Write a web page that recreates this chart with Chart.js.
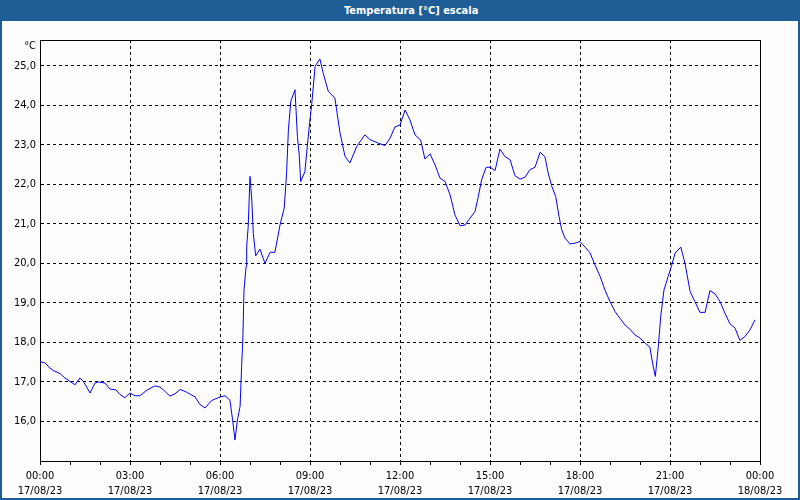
<!DOCTYPE html>
<html>
<head>
<meta charset="utf-8">
<script src="https://cdn.jsdelivr.net/npm/chart.js@4/dist/chart.umd.min.js"></script>
<style>
  html, body { margin: 0; padding: 0; background: #fcfdfc; }
  #wrap { position: relative; width: 800px; height: 500px; overflow: hidden; background: #fcfdfc; }
  #c { position: absolute; left: 0; top: 0; }
  #title { position: absolute; left: 0; top: 0; width: 800px; height: 21px; background: #1e5d96;
           color: #ffffff; font: bold 11px "DejaVu Sans Condensed", "DejaVu Sans", sans-serif; line-height: 21px; }
  #title span { position: absolute; left: 344px; top: 0; white-space: nowrap; }
  #frame { position: absolute; left: 0; top: 0; width: 796px; height: 498px; border-left: 2px solid #1e5d96;
           border-right: 2px solid #1e5d96; border-bottom: 2px solid #1e5d96; pointer-events: none; }
  #unit { position: absolute; right: 764px; top: 39px; font: 11px "DejaVu Sans Condensed", "DejaVu Sans", sans-serif; color: #000; white-space: nowrap; }
</style>
</head>
<body>
<div id="wrap">
  <canvas id="c" width="800" height="500"></canvas>
  <div id="title"><span>Temperatura [°C] escala</span></div>
  <div id="unit">°C</div>
  <div id="frame"></div>
</div>
<script>
// ---- data (hours since 17/08/23 00:00, temperature in °C) ----
const hours = [
  0, 0.17, 0.33, 0.44, 0.67, 0.83, 1.0, 1.17, 1.33, 1.44, 1.67, 1.83, 1.94, 2.17, 2.33, 2.53, 2.67, 2.83,
  3.0, 3.17, 3.33, 3.56, 3.83, 4.0, 4.17, 4.33, 4.5, 4.67, 4.89, 5.17, 5.33, 5.5, 5.72,
  6.0, 6.17, 6.33, 6.42, 6.5, 6.58, 6.67, 6.72, 6.76, 6.8, 6.87, 6.89, 6.94, 7.0, 7.06, 7.11, 7.19,
  7.33, 7.5, 7.67, 7.83, 8.0, 8.14, 8.22, 8.28, 8.36, 8.5, 8.58, 8.64, 8.69, 8.83, 8.91, 8.98,
  9.06, 9.17, 9.24, 9.33, 9.44, 9.61, 9.83, 10.0, 10.17, 10.33, 10.56, 10.83, 11.0, 11.28, 11.5, 11.67, 11.83,
  12.0, 12.17, 12.33, 12.5, 12.69, 12.83, 13.0, 13.17, 13.33, 13.5, 13.67, 13.83, 14.0, 14.17, 14.33, 14.5,
  14.61, 14.72, 14.87, 15.0, 15.17, 15.33, 15.5, 15.67, 15.83, 16.0, 16.17, 16.33, 16.5, 16.67, 16.83, 16.94,
  17.06, 17.19, 17.3, 17.39, 17.5, 17.67, 17.83, 18.0, 18.17, 18.33, 18.5, 18.67, 18.83, 19.0, 19.17, 19.33,
  19.5, 19.67, 19.83, 20.0, 20.17, 20.33, 20.42, 20.51, 20.61, 20.69, 20.8, 20.94, 21.06, 21.17, 21.36, 21.5,
  21.67, 21.83, 22.0, 22.17, 22.33, 22.5, 22.67, 22.83, 23.0, 23.17, 23.33, 23.5, 23.67, 23.83
];
const temps = [
  17.51, 17.48, 17.35, 17.29, 17.21, 17.1, 17.01, 16.93, 17.1, 17.02, 16.72, 16.97, 17.0, 16.97, 16.82, 16.8, 16.68, 16.6,
  16.72, 16.65, 16.65, 16.79, 16.9, 16.87, 16.76, 16.64, 16.7, 16.81, 16.74, 16.62, 16.43, 16.34, 16.53,
  16.62, 16.65, 16.54, 16.04, 15.53, 16.04, 16.38, 17.39, 18.06, 19.33, 19.92, 20.43, 20.93, 22.2, 21.6, 20.76, 20.19,
  20.36, 20.0, 20.28, 20.28, 20.97, 21.4, 22.28, 23.38, 24.1, 24.39, 23.21, 22.75, 22.07, 22.32, 22.96, 23.5,
  24.05, 24.98, 25.07, 25.17, 24.81, 24.35, 24.18, 23.3, 22.7, 22.54, 22.96, 23.25, 23.13, 23.04, 22.98, 23.17, 23.45,
  23.5, 23.88, 23.63, 23.25, 23.12, 22.64, 22.77, 22.49, 22.16, 22.07, 21.73, 21.23, 20.95, 20.97, 21.14, 21.31,
  21.69, 22.11, 22.43, 22.43, 22.35, 22.89, 22.7, 22.62, 22.22, 22.13, 22.18, 22.37, 22.43, 22.81, 22.7, 22.28,
  21.95, 21.69, 21.19, 20.85, 20.64, 20.49, 20.51, 20.55, 20.41, 20.27, 19.96, 19.67, 19.33, 19.03, 18.78, 18.61,
  18.44, 18.33, 18.19, 18.11, 17.98, 17.88, 17.47, 17.14, 17.89, 18.65, 19.33, 19.67, 19.96, 20.26, 20.41, 20.0,
  19.29, 19.03, 18.76, 18.76, 19.31, 19.23, 19.03, 18.74, 18.47, 18.36, 18.05, 18.15, 18.32, 18.57
];
const xTicks = [0, 3, 6, 9, 12, 15, 18, 21, 24];
const xTimeLabels = ["00:00", "03:00", "06:00", "09:00", "12:00", "15:00", "18:00", "21:00", "00:00"];
const xDateLabels = ["17/08/23", "17/08/23", "17/08/23", "17/08/23", "17/08/23", "17/08/23", "17/08/23", "17/08/23", "18/08/23"];
const yTicks = [16, 17, 18, 19, 20, 21, 22, 23, 24, 25];
const minorHours = [1, 2, 4, 5, 7, 8, 10, 11, 13, 14, 16, 17, 19, 20, 22, 23];

const FONT = '"DejaVu Sans Condensed", "DejaVu Sans", sans-serif';

const framePlugin = {
  id: 'frame',
  afterDraw(chart) {
    const {ctx, chartArea: a, scales} = chart;
    ctx.save();
    ctx.strokeStyle = '#000';
    ctx.lineWidth = 1;
    ctx.beginPath();
    ctx.moveTo(Math.round(a.left) + 0.5, Math.round(a.top) + 0.5);
    ctx.lineTo(Math.round(a.right) + 0.5, Math.round(a.top) + 0.5);
    ctx.lineTo(Math.round(a.right) + 0.5, Math.round(a.bottom) + 0.5);
    ctx.stroke();
    // minor hour ticks under the x axis
    const xs = scales.x;
    ctx.beginPath();
    minorHours.forEach(h => {
      const px = Math.round(xs.getPixelForValue(h)) + 0.5;
      ctx.moveTo(px, Math.round(a.bottom));
      ctx.lineTo(px, Math.round(a.bottom) + 4);
    });
    ctx.stroke();
    ctx.restore();
  }
};

new Chart(document.getElementById('c'), {
  type: 'line',
  data: {
    datasets: [{
      data: hours.map((h, i) => ({x: h, y: temps[i]})),
      borderColor: '#0000ff',
      borderWidth: 1,
      pointRadius: 0,
      tension: 0,
      fill: false
    }]
  },
  options: {
    responsive: false,
    devicePixelRatio: 1,
    animation: false,
    layout: { padding: { top: 40, left: 0, right: 40, bottom: 0 } },
    plugins: { legend: { display: false }, tooltip: { enabled: false }, title: { display: false } },
    scales: {
      x: {
        type: 'linear',
        min: 0, max: 24,
        afterBuildTicks(s) { s.ticks = xTicks.map(v => ({value: v})); },
        afterFit(s) { s.height = 39; },
        grid: { color: '#000', lineWidth: 1, drawTicks: true, tickLength: 4, tickColor: '#000', tickBorderDash: [] },
        border: { display: true, color: '#000', width: 1, dash: [3, 3] },
        ticks: {
          color: '#000',
          font: { family: FONT, size: 11, lineHeight: 1.4 },
          padding: 3,
          maxRotation: 0,
          autoSkip: false,
          callback(v) { const i = xTicks.indexOf(v); return i < 0 ? '' : [xTimeLabels[i], xDateLabels[i]]; }
        }
      },
      y: {
        min: 15.0, max: 25.65,
        afterBuildTicks(s) { s.ticks = yTicks.map(v => ({value: v})); },
        afterFit(s) { s.width = 40; },
        grid: { color: '#000', lineWidth: 1, drawTicks: false },
        border: { display: true, color: '#000', width: 1, dash: [3, 3] },
        ticks: {
          color: '#000',
          font: { family: FONT, size: 11 },
          padding: 4,
          callback(v) { return v.toFixed(1).replace('.', ','); }
        }
      }
    }
  },
  plugins: [framePlugin]
});
</script>
</body>
</html>
